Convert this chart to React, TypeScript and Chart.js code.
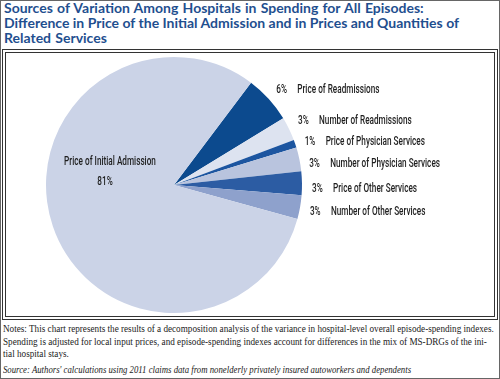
import React, { useEffect, useRef } from "react";
import { Chart, registerables } from "chart.js";

Chart.register(...registerables);

const categories = [
  "Price of Readmissions",
  "Number of Readmissions",
  "Price of Physician Services",
  "Number of Physician Services",
  "Price of Other Services",
  "Number of Other Services",
  "Price of Initial Admission",
];
const shares = [6, 3, 1, 3, 3, 3, 81];
const sliceColors = ["#0c4a8e", "#dde3f0", "#1c55a0", "#b9c4de", "#2c5ca3", "#8ea1cc", "#cbd3e7"];
const pctLabels = ["6%", "3%", "1%", "3%", "3%", "3%", "81%"];

const labelNudgeY = [-3, -4, 1, 6, 6, 3];

const labelPlugin = {
  id: "sliceLabels",
  afterDatasetsDraw(chart: any) {
    const meta = chart.getDatasetMeta(0);
    const ctx = chart.ctx as CanvasRenderingContext2D;
    ctx.save();
    ctx.fillStyle = "#1e1e1e";
    ctx.textBaseline = "middle";
    ctx.font = "500 13px Roboto, 'DejaVu Sans', sans-serif";
    const sx = 0.63;
    meta.data.forEach((arc: any, i: number) => {
      const { x, y, startAngle, endAngle, outerRadius } = arc.getProps(
        ["x", "y", "startAngle", "endAngle", "outerRadius"],
        true
      );
      if (i < 6) {
        const mid = (startAngle + endAngle) / 2;
        const px = x + (outerRadius + 10) * Math.cos(mid);
        const py = y + (outerRadius + 10) * Math.sin(mid) + labelNudgeY[i];
        ctx.save();
        ctx.translate(px, py);
        ctx.scale(sx, 1);
        ctx.textAlign = "left";
        ctx.fillText(pctLabels[i], 0, 0);
        ctx.fillText(categories[i], 21 / sx, 0);
        ctx.restore();
      } else {
        ctx.save();
        ctx.translate(x - 64, y - 23);
        ctx.scale(sx, 1);
        ctx.textAlign = "center";
        ctx.fillText(categories[i], 0, 0);
        ctx.restore();
        ctx.save();
        ctx.translate(x - 69, y - 3);
        ctx.scale(sx, 1);
        ctx.textAlign = "center";
        ctx.fillText(pctLabels[i], 0, 0);
        ctx.restore();
      }
    });
    ctx.restore();
  },
};

export default function App() {
  const ref = useRef<HTMLCanvasElement | null>(null);
  useEffect(() => {
    if (!ref.current) return;
    const chart = new Chart(ref.current, {
      type: "pie",
      data: {
        labels: categories,
        datasets: [
          {
            data: shares,
            backgroundColor: sliceColors,
            borderWidth: 0,
            hoverOffset: 0,
            offset: 0,
          },
        ],
      },
      options: {
        animation: false,
        responsive: false,
        rotation: 37,
        layout: { padding: { left: 40, right: 192, top: 4, bottom: 4 } },
        plugins: { legend: { display: false }, tooltip: { enabled: false } },
      },
      plugins: [labelPlugin],
    });
    return () => chart.destroy();
  }, []);

  return (
    <div
      style={{
        position: "fixed",
        left: 0,
        top: 0,
        width: 500,
        height: 379,
        background: "#fff",
        border: "1px solid #666",
        boxSizing: "border-box",
        overflow: "hidden",
      }}
    >
      <div
        style={{
          position: "absolute",
          left: 3,
          top: -1,
          font: "bold 14px Lato, 'DejaVu Sans', sans-serif",
          lineHeight: "15px",
          color: "#1f4f8f",
          whiteSpace: "nowrap",
          wordSpacing: "0.8px",
        }}
      >
        Sources of Variation Among Hospitals in Spending for All Episodes:
        <br />
        <span style={{ wordSpacing: 0 }}>
          Difference in Price of the Initial Admission and in Prices and Quantities of
        </span>
        <br />
        Related Services
      </div>
      <div
        style={{
          position: "absolute",
          left: 1,
          top: 48,
          width: 496,
          height: 271,
          border: "4px double #333",
          boxSizing: "border-box",
        }}
      />
      <canvas
        ref={ref}
        width={488}
        height={264}
        style={{ position: "absolute", left: 5, top: 52, width: 488, height: 264 }}
      />
      <div
        style={{
          position: "absolute",
          left: 2,
          top: 322,
          width: 540,
          font: "10px 'Liberation Serif', serif",
          lineHeight: "12.5px",
          color: "#222",
          whiteSpace: "nowrap",
          transform: "scaleX(0.915)",
          transformOrigin: "0 0",
        }}
      >
        Notes: This chart represents the results of a decomposition analysis of the variance in hospital-level overall episode-spending indexes.
        <br />
        Spending is adjusted for local input prices, and episode-spending indexes account for differences in the mix of MS-DRGs of the ini-
        <br />
        tial hospital stays.
        <div
          style={{
            fontStyle: "italic",
            marginTop: 3.5,
            transform: "scaleX(0.955)",
            transformOrigin: "0 0",
          }}
        >
          Source: Authors' calculations using 2011 claims data from nonelderly privately insured autoworkers and dependents
        </div>
      </div>
    </div>
  );
}
